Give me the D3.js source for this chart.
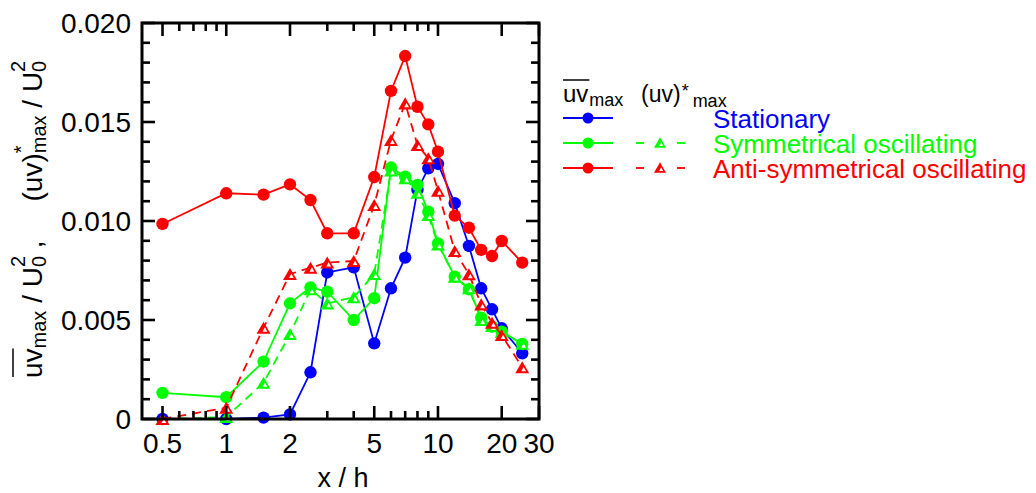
<!DOCTYPE html>
<html>
<head>
<meta charset="utf-8">
<script src="https://cdn.jsdelivr.net/npm/d3@7"></script>
<style>
  html, body { margin: 0; padding: 0; background: #fff; }
  svg { display: block; font-family: "Liberation Sans", Arial, sans-serif; }
</style>
</head>
<body>
<svg id="chart" width="1036" height="493"></svg>
<script>
// Streamwise positions x/h
const xVals = [0.5, 1, 1.5, 2, 2.5, 3, 4, 5, 6, 7, 8, 9, 10, 12, 14, 16, 18, 20, 25];

// Time-averaged maximum shear stress, uv_max / U0^2
const statUvBar = [0, 0, 0.00007, 0.00023, 0.00236, 0.0074, 0.00766, 0.00382, 0.0066, 0.00815, 0.01157, 0.01266, 0.01288, 0.0109, 0.00874, 0.0066, 0.00554, 0.00458, 0.00332];
const symUvBar  = [0.00132, 0.0011, 0.0029, 0.00584, 0.00665, 0.00643, 0.005, 0.0061, 0.0127, 0.01224, 0.01182, 0.01047, 0.00887, 0.00719, 0.00655, 0.00512, 0.00466, 0.00441, 0.00379];
const antiUvBar = [0.00985, 0.0114, 0.01133, 0.01185, 0.01106, 0.00938, 0.00938, 0.01222, 0.01657, 0.01833, 0.01577, 0.01488, 0.0135, 0.01027, 0.00966, 0.00854, 0.00823, 0.00899, 0.0079];

// Coherent (phase-averaged) maximum shear stress, (uv)*_max / U0^2
const symUvStar  = [0, 0.0001, 0.00183, 0.00429, 0.00655, 0.00584, 0.00615, 0.00732, 0.01255, 0.01216, 0.01143, 0.0103, 0.00882, 0.00719, 0.0066, 0.005, 0.0047, 0.00441, 0.0038];
const antiUvStar = [0, 0.00057, 0.00461, 0.00732, 0.00764, 0.0079, 0.00798, 0.01081, 0.01409, 0.01594, 0.01384, 0.01317, 0.01153, 0.00848, 0.00731, 0.00579, 0.00486, 0.00424, 0.00261];

// Axis ticks
const xTickLabels = [0.5, 1, 2, 5, 10, 20, 30];
const xMinorTicks = [0.6, 0.7, 0.8, 0.9, 3, 4, 6, 7, 8, 9];
const yTickLabels = [0, 0.005, 0.010, 0.015, 0.020];
const yMinorTicks = [0.001, 0.002, 0.003, 0.004, 0.006, 0.007, 0.008, 0.009, 0.011, 0.012, 0.013, 0.014, 0.016, 0.017, 0.018, 0.019];

const seriesNames = ["Stationary", "Symmetrical oscillating", "Anti-symmetrical oscillating"];
const seriesColors = ["#0000ff", "#00ff00", "#ff0000"];

const svg = d3.select("#chart");
const L = 142, R = 539, T = 23, B = 419;

const x = d3.scaleLog().domain([0.4, 30]).range([L, R]);
const y = d3.scaleLinear().domain([0, 0.020]).range([B, T]);

// Triangle marker: filled triangle with a small offset white notch
function triangle(g, cx, cy, color, s) {
  const w = s, h = s * 0.86;
  g.append("path")
    .attr("d", `M${cx - w / 2},${cy + h / 2} L${cx},${cy - h / 2} L${cx + w / 2},${cy + h / 2} Z`)
    .attr("fill", color);
  const iw = w * 0.34, ih = h * 0.36, ox = cx + w * 0.1, oy = cy + h * 0.15;
  g.append("path")
    .attr("d", `M${ox - iw / 2},${oy + ih / 2} L${ox},${oy - ih / 2} L${ox + iw / 2},${oy + ih / 2} Z`)
    .attr("fill", "#fff");
}

const plot = svg.append("g");
const line = d3.line().x(d => x(d[0])).y(d => y(d[1]));

function drawSolid(vals, color) {
  const pts = xVals.map((v, i) => [v, vals[i]]);
  plot.append("path").datum(pts).attr("d", line)
    .attr("fill", "none").attr("stroke", color).attr("stroke-width", 1.8);
  plot.selectAll(null).data(pts).enter().append("circle")
    .attr("cx", d => x(d[0])).attr("cy", d => y(d[1])).attr("r", 6.2)
    .attr("fill", color);
}
function drawDashed(vals, color) {
  const pts = xVals.map((v, i) => [v, vals[i]]);
  plot.append("path").datum(pts).attr("d", line)
    .attr("fill", "none").attr("stroke", color).attr("stroke-width", 1.8)
    .attr("stroke-dasharray", "9,6");
  const g = plot.append("g");
  pts.forEach(d => triangle(g, x(d[0]), y(d[1]), color, 14));
}

drawSolid(statUvBar, seriesColors[0]);
drawSolid(symUvBar, seriesColors[1]);
drawDashed(symUvStar, seriesColors[1]);
drawSolid(antiUvBar, seriesColors[2]);
drawDashed(antiUvStar, seriesColors[2]);

// Frame
svg.append("rect").attr("x", L).attr("y", T).attr("width", R - L).attr("height", B - T)
  .attr("fill", "none").attr("stroke", "#000").attr("stroke-width", 3);

// Inward ticks on all four sides
const axes = svg.append("g").attr("stroke", "#000").attr("stroke-width", 2.6);
const MAJ = 13, MIN = 8;
xTickLabels.concat(xMinorTicks).forEach(v => {
  const len = xTickLabels.includes(v) ? MAJ : MIN;
  const px = x(v);
  axes.append("line").attr("x1", px).attr("x2", px).attr("y1", B).attr("y2", B - len);
  axes.append("line").attr("x1", px).attr("x2", px).attr("y1", T).attr("y2", T + len);
});
yTickLabels.concat(yMinorTicks).forEach(v => {
  const len = yTickLabels.includes(v) ? MAJ : MIN;
  const py = y(v);
  axes.append("line").attr("x1", L).attr("x2", L + len).attr("y1", py).attr("y2", py);
  axes.append("line").attr("x1", R).attr("x2", R - len).attr("y1", py).attr("y2", py);
});

// Tick labels
const xFmt = v => String(v);
svg.append("g").selectAll("text").data(xTickLabels).enter().append("text")
  .attr("x", d => x(d)).attr("y", 453).attr("text-anchor", "middle")
  .attr("font-size", 28).attr("fill", "#000").text(xFmt);
const yFmt = v => v === 0 ? "0" : d3.format(".3f")(v);
svg.append("g").selectAll("text").data(yTickLabels).enter().append("text")
  .attr("x", 131).attr("y", d => y(d) + 10).attr("text-anchor", "end")
  .attr("font-size", 28).attr("fill", "#000").text(yFmt);

// X axis title
svg.append("text").attr("x", 343).attr("y", 487).attr("text-anchor", "middle")
  .attr("font-size", 27).attr("fill", "#000").text("x / h");

// Y axis title (rotated), built from pieces with sub/superscripts
(function () {
  const g = svg.append("g");
  const parts = [
    { t: "uv", s: 28, dy: 0, over: true },
    { t: "max", s: 20, dy: 4 },
    { t: " / U", s: 28, dy: 0 },
    { t: "0", s: 20, dy: 4, stackNext: true },
    { t: "2", s: 20, dy: -17 },
    { t: " ,     (uv)", s: 28, dy: 0 },
    { t: "*", s: 20, dy: -14, stackNext: true },
    { t: "max", s: 20, dy: 4 },
    { t: " / U", s: 28, dy: 0 },
    { t: "0", s: 20, dy: 4, stackNext: true },
    { t: "2", s: 20, dy: -17 }
  ];
  let cx = 0, stackStart = null, stackW = 0;
  parts.forEach(p => {
    const txt = g.append("text").attr("x", cx).attr("y", p.dy)
      .attr("font-size", p.s).attr("fill", "#000")
      .style("white-space", "pre").text(p.t);
    const w = txt.node().getComputedTextLength();
    if (p.over) {
      g.append("line").attr("x1", cx + 1).attr("x2", cx + w).attr("y1", -29).attr("y2", -29)
        .attr("stroke", "#000").attr("stroke-width", 1.5);
    }
    if (p.stackNext) { stackStart = cx; stackW = w; return; }
    if (stackStart !== null) {
      txt.attr("x", stackStart);
      cx = stackStart + Math.max(w, stackW);
      stackStart = null;
      return;
    }
    cx += w;
  });
  g.attr("transform", "translate(42,378) rotate(-90)");
})();

// Legend
(function () {
  const lg = svg.append("g");
  // header: uv_max with overline, (uv)*_max
  const h1 = lg.append("text").attr("x", 563).attr("y", 102).attr("font-size", 24).attr("fill", "#000").text("uv");
  const w1 = h1.node().getComputedTextLength();
  lg.append("line").attr("x1", 563).attr("x2", 563 + w1 + 1).attr("y1", 80).attr("y2", 80)
    .attr("stroke", "#000").attr("stroke-width", 1.5);
  lg.append("text").attr("x", 563 + w1 + 1).attr("y", 106).attr("font-size", 18).attr("fill", "#000").text("max");
  const h2 = lg.append("text").attr("x", 641).attr("y", 102).attr("font-size", 23).attr("fill", "#000").text("(uv)");
  const w2 = h2.node().getComputedTextLength();
  lg.append("text").attr("x", 641 + w2 + 1).attr("y", 97).attr("font-size", 18).attr("fill", "#000").text("*");
  lg.append("text").attr("x", 641 + w2 + 12).attr("y", 107).attr("font-size", 18).attr("fill", "#000").text("max");

  const rowsY = [118, 143, 168];
  seriesNames.forEach((name, i) => {
    const c = seriesColors[i], ry = rowsY[i];
    lg.append("line").attr("x1", 563).attr("x2", 613).attr("y1", ry).attr("y2", ry)
      .attr("stroke", c).attr("stroke-width", 1.8);
    lg.append("circle").attr("cx", 588).attr("cy", ry).attr("r", 5.5).attr("fill", c);
    if (i > 0) {
      lg.append("line").attr("x1", 636).attr("x2", 644).attr("y1", ry).attr("y2", ry)
        .attr("stroke", c).attr("stroke-width", 1.8);
      lg.append("line").attr("x1", 677).attr("x2", 685).attr("y1", ry).attr("y2", ry)
        .attr("stroke", c).attr("stroke-width", 1.8);
      triangle(lg, 660, ry - 0.5, c, 12);
    }
    lg.append("text").attr("x", 713).attr("y", ry + 10).attr("font-size", 26)
      .attr("fill", c).text(name);
  });
})();
</script>
</body>
</html>
